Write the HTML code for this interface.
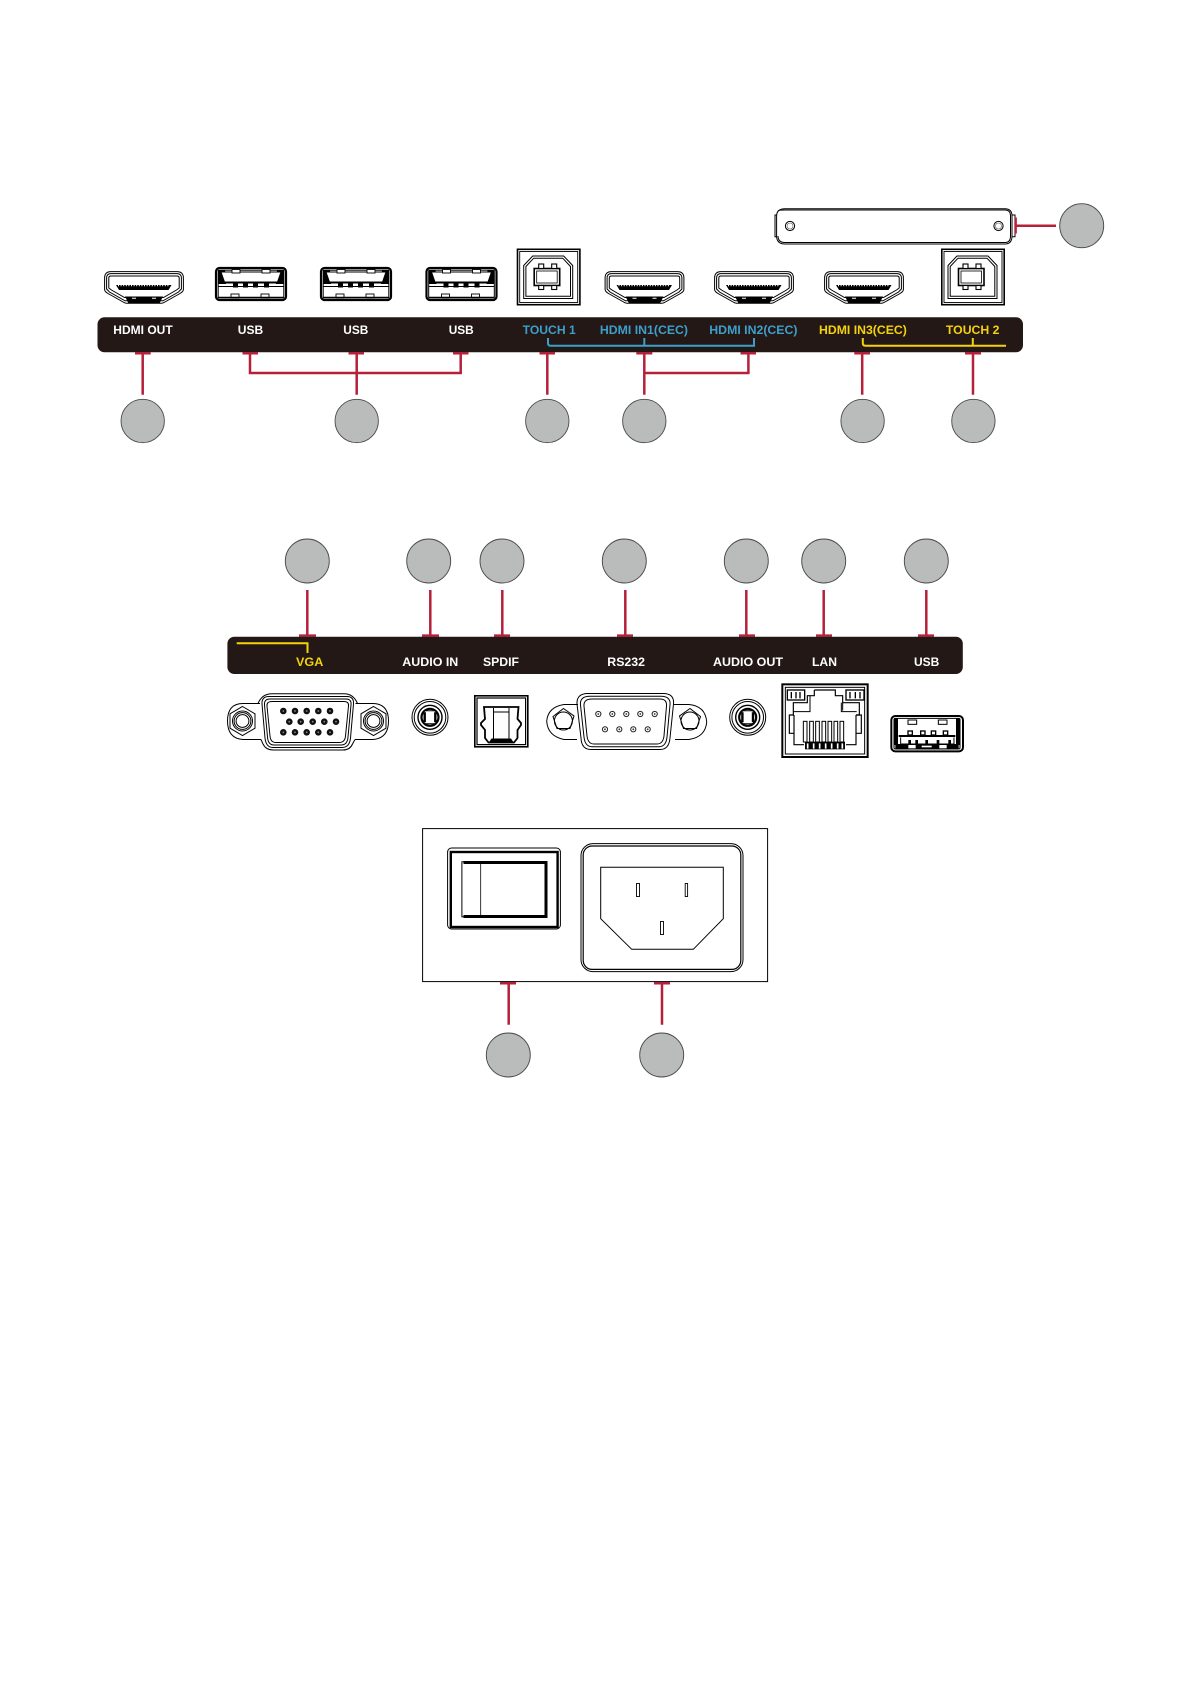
<!DOCTYPE html>
<html><head><meta charset="utf-8"><style>
html,body{margin:0;padding:0;background:#fff}
svg{display:block}
text{font-family:"Liberation Sans",sans-serif;font-weight:700;font-size:12px}
.r{stroke:#b5203a;stroke-width:2.5;fill:none}
.b{stroke:#3d9fcb;stroke-width:2;fill:none}
.y{stroke:#f4d20c;stroke-width:2;fill:none}
.k{stroke:#000;fill:none;stroke-width:1}
.c{fill:#b9bcbb;stroke:#4a4a4a;stroke-width:.9}
</style></head><body>
<svg width="1191" height="1684" viewBox="0 0 1191 1684" xmlns="http://www.w3.org/2000/svg">
<defs>
<symbol id="hdmi" width="80" height="33" viewBox="0 0 80 33" overflow="visible">
<path class="k" d="M7 .6H73Q79.4 .6 79.4 7V18.5Q79.4 20.5 76 22.5L60 31.5Q59 32.3 56 32.3H24Q21 32.3 20 31.5L4 22.5Q.6 20.5 .6 18.5V7Q.6 .6 7 .6Z"/>
<path class="k" d="M7 2.6H73Q77.4 2.6 77.4 7V18L74.5 21 59 29.8H21L5.5 21 2.6 18V7Q2.6 2.6 7 2.6Z"/>
<path class="k" stroke-width="1.4" d="M7 5H73Q75.2 5 75.2 7V17L72.5 19 59.5 26.5H20.5L7.5 19 4.8 17V7Q4.8 5 7 5Z"/>
<path d="M21 25.5H59L55.5 32.4H24.5Z" fill="#000"/>
<path d="M28 27.3h4M48 27.3h4" stroke="#fff" stroke-width="1"/>
<path d="M12 14H67.5L64.5 19H15Z" fill="#000"/>
<path d="M14 14.6H66" stroke="#fff" stroke-width="1.2" stroke-dasharray="1 1.6"/>
</symbol>
<symbol id="usba" width="72" height="34" viewBox="0 0 72 34" overflow="visible">
<rect x="1" y="1" width="70" height="32" rx="3.5" fill="#fff" stroke="#000" stroke-width="2.2"/>
<rect x="3.2" y="3.2" width="65.6" height="27.6" fill="none" stroke="#000" stroke-width="1"/>
<path d="M3 3H10L11 17H3ZM69 3H62L61 17H69Z" fill="#000"/>
<path d="M6 5H66L62.5 15H9.5Z" fill="#fff" stroke="#000" stroke-width="1"/>
<path d="M9 15.6H63" stroke="#000" stroke-width="1.8"/>
<path d="M3 19.5H69" stroke="#000" stroke-width="1"/>
<g fill="#fff" stroke="#000" stroke-width=".9">
<rect x="17" y="2.5" width="8" height="3.5"/><rect x="47" y="2.5" width="8" height="3.5"/>
<rect x="16" y="27" width="8" height="4"/><rect x="46" y="27" width="8" height="4"/>
</g>
<g fill="#000"><rect x="18" y="16" width="5" height="4.5"/><rect x="28" y="16" width="5" height="4.5"/><rect x="38" y="16" width="5" height="4.5"/><rect x="49" y="16" width="5" height="4.5"/></g>
<path d="M3 30.5H69" stroke="#000" stroke-width="1.6"/>
</symbol>
<symbol id="usbb" width="64" height="57" viewBox="0 0 64 57" overflow="visible">
<rect x=".8" y=".8" width="62.4" height="55.4" fill="#fff" stroke="#000" stroke-width="1.6"/>
<rect x="3" y="3" width="58" height="51" fill="none" stroke="#000" stroke-width=".9"/>
<path class="k" d="M7 17 16 7.5H47L56 17V50H7Z"/>
<path class="k" d="M9.2 18 17 9.7H46L53.8 18V47.8H9.2Z"/>
<rect x="17.5" y="20" width="25.5" height="17" fill="#fff" stroke="#000" stroke-width="1.6"/>
<rect x="20" y="22.5" width="20.5" height="12" fill="none" stroke="#000" stroke-width=".8"/>
<g fill="#fff" stroke="#000" stroke-width="1.1">
<rect x="22" y="15.5" width="5" height="4.5"/><rect x="35" y="15.5" width="5" height="4.5"/>
<rect x="22" y="37" width="5" height="4"/><rect x="35" y="37" width="5" height="4"/>
</g>
</symbol>
<symbol id="jack" width="38" height="38" viewBox="-19 -19 38 38" overflow="visible">
<circle r="18" class="k"/><circle r="15.8" class="k"/>
<circle r="12" fill="none" stroke="#000" stroke-width="1.4"/>
<circle r="8.5" fill="none" stroke="#000" stroke-width="2.2"/>
<rect x="-6" y="-6.5" width="12" height="13" rx="2" fill="#fff" stroke="#000" stroke-width="1"/>
<path d="M-5-5V5M5-5V5" stroke="#000" stroke-width="1.8"/>
</symbol>
<symbol id="nut" width="40" height="40" viewBox="-20 -20 40 40" overflow="visible">
<path class="k" d="M0-14.5 12.5-7.2V7.2L0 14.5-12.5 7.2V-7.2Z"/>
<circle r="10" class="k"/><circle r="8.4" class="k"/><circle r="6.4" class="k"/>
</symbol>
<symbol id="pin" width="8" height="8" viewBox="-4 -4 8 8" overflow="visible"><circle r="3.3" fill="#111"/><circle r=".9" fill="#888"/></symbol>
<symbol id="pin2" width="8" height="8" viewBox="-4 -4 8 8" overflow="visible"><circle r="2.6" fill="none" stroke="#222" stroke-width="1"/><circle r=".9" fill="#333"/></symbol>
</defs>

<!-- top section -->
<g>
<path class="k" stroke-width="1.6" fill="#fff" d="M785 208.7H1005Q1012 208.7 1012 216V236Q1012 244 1005 244H785Q776.6 244 776.6 236V216Q776.6 208.7 785 208.7Z"/>
<path class="k" d="M778 211Q778.5 210 785 210H1005Q1010.5 210 1010.5 216V236Q1010.5 242.5 1005 242.5H785Q778 242.5 778 236"/>
<path class="k" d="M776.6 215H775V236.7H776.6M1012 215H1015V236.7H1012"/>
<circle cx="790" cy="226" r="4.6" class="k" stroke-width="1.1"/><circle cx="790" cy="226" r="3" fill="none" stroke="#555" stroke-width=".6"/>
<circle cx="998.5" cy="226" r="4.6" class="k" stroke-width="1.1"/><circle cx="998.5" cy="226" r="3" fill="none" stroke="#555" stroke-width=".6"/>
<use href="#hdmi" x="104" y="271"/><use href="#hdmi" x="604.5" y="271"/><use href="#hdmi" x="714" y="271"/><use href="#hdmi" x="824" y="271"/>
<use href="#usba" x="215" y="267"/><use href="#usba" x="320" y="267"/><use href="#usba" x="425.5" y="267"/>
<use href="#usbb" x="516.7" y="248.5"/><use href="#usbb" x="941" y="248.5"/>
<rect x="97.5" y="317.3" width="925.5" height="35" rx="7" fill="#231815"/>
<g fill="#fff">
<text x="113.3" y="334" textLength="59.4" lengthAdjust="spacingAndGlyphs">HDMI OUT</text>
<text x="237.8" y="334" textLength="25.4" lengthAdjust="spacingAndGlyphs">USB</text>
<text x="343.3" y="334" textLength="25" lengthAdjust="spacingAndGlyphs">USB</text>
<text x="448.7" y="334" textLength="25" lengthAdjust="spacingAndGlyphs">USB</text>
</g>
<g fill="#3d9fcb">
<text x="522.7" y="334" textLength="53" lengthAdjust="spacingAndGlyphs">TOUCH 1</text>
<text x="599.9" y="334" textLength="88.1" lengthAdjust="spacingAndGlyphs">HDMI IN1(CEC)</text>
<text x="709.3" y="334" textLength="88.2" lengthAdjust="spacingAndGlyphs">HDMI IN2(CEC)</text>
</g>
<g fill="#f4d20c">
<text x="819" y="334" textLength="87.8" lengthAdjust="spacingAndGlyphs">HDMI IN3(CEC)</text>
<text x="945.9" y="334" textLength="53.6" lengthAdjust="spacingAndGlyphs">TOUCH 2</text>
</g>
<path class="b" d="M548 338V343Q548 345.7 550.5 345.7H754V338M644.3 338V345"/>
<path class="y" d="M862.8 338V343Q862.8 345.7 865.3 345.7H1006M972.8 338V345"/>
<path class="r" d="M135 353.2H150.7M242.5 353.2H258M348.5 353.2H364M453 353.2H468.5M539.5 353.2H555M636.3 353.2H652.3M740.5 353.2H756M854.3 353.2H870M965 353.2H981"/>
<path class="r" d="M142.7 353V394.7M250 353V373H460.7V353M356.7 353V394.7M547.3 353V394.7M644.3 353V394.7M644.3 373H748.4V353M862.2 353V394.7M973 353V394.7"/>
<path class="r" d="M1015.6 217.5V233.5M1015.6 225.7H1056"/>
<circle class="c" cx="142.7" cy="421" r="21.7"/><circle class="c" cx="356.7" cy="421" r="21.7"/><circle class="c" cx="547.3" cy="421" r="21.7"/><circle class="c" cx="644.3" cy="421" r="21.7"/><circle class="c" cx="862.6" cy="421" r="21.7"/><circle class="c" cx="973.4" cy="421" r="21.7"/><circle class="c" cx="1081.7" cy="225.7" r="22"/>
</g>

<!-- middle section -->
<g>
<circle class="c" cx="307.3" cy="561" r="22"/><circle class="c" cx="428.7" cy="561" r="22"/><circle class="c" cx="502" cy="561" r="22"/><circle class="c" cx="624.3" cy="561" r="22"/><circle class="c" cx="746.3" cy="561" r="22"/><circle class="c" cx="823.7" cy="561" r="22"/><circle class="c" cx="926.3" cy="561" r="22"/>
<path class="r" d="M307.3 590V636M430.3 590V636M502.3 590V636M625.3 590V636M746.3 590V636M823.7 590V636M926.3 590V636"/>
<path class="r" d="M299 635.6H316M422 635.6H439M494 635.6H510M617 635.6H633M739 635.6H755M816 635.6H832M918 635.6H934"/>
<rect x="227.4" y="636.7" width="735.4" height="37.3" rx="7" fill="#231815"/>
<path class="y" d="M236.7 643.3H307.5V653"/>
<text x="296" y="666" fill="#f4d20c" textLength="27.3" lengthAdjust="spacingAndGlyphs">VGA</text>
<g fill="#fff">
<text x="402.3" y="666" textLength="56" lengthAdjust="spacingAndGlyphs">AUDIO IN</text>
<text x="483" y="666" textLength="36" lengthAdjust="spacingAndGlyphs">SPDIF</text>
<text x="607.3" y="666" textLength="37.7" lengthAdjust="spacingAndGlyphs">RS232</text>
<text x="713" y="666" textLength="70" lengthAdjust="spacingAndGlyphs">AUDIO OUT</text>
<text x="812" y="666" textLength="25" lengthAdjust="spacingAndGlyphs">LAN</text>
<text x="914" y="666" textLength="25.3" lengthAdjust="spacingAndGlyphs">USB</text>
</g>
<!-- VGA -->
<path class="k" d="M260 703.5H243Q227.5 703.5 227.5 721T243 739.5H261M355.5 703.5H372.5Q388.5 703.5 388.5 721T372.5 739.5H355"/>
<path class="k" d="M258 703.5Q262 693.7 272 693.7H344Q353.5 693.7 357.5 703.5M261 739.5L263 744Q266 750 273 750H343Q350 750 352.5 744L355 739.5"/>
<use href="#nut" x="222.5" y="701"/><use href="#nut" x="353.5" y="701"/>
<path class="k" stroke-width="1.2" d="M269 696.5H347Q354 696.5 353.5 704L350.5 738Q349.5 747.5 342 747.5H273Q266 747.5 265 738L262 704Q261.5 696.5 269 696.5Z"/>
<path class="k" d="M270 699H346Q351.7 699 351 705L348 737Q347.5 745 341 745H274Q268 745 267.5 737L264.5 705Q264 699 270 699Z"/>
<path class="k" d="M272 701.5H344Q349 701.5 348.5 706L345.5 736Q345 742.5 339 742.5H276Q270.5 742.5 270 736L267 706Q266.5 701.5 272 701.5Z"/>
<g><use href="#pin" x="279.3" y="707"/><use href="#pin" x="291" y="707"/><use href="#pin" x="302.7" y="707"/><use href="#pin" x="314.3" y="707"/><use href="#pin" x="326" y="707"/>
<use href="#pin" x="285.3" y="717.7"/><use href="#pin" x="296.7" y="717.7"/><use href="#pin" x="308.7" y="717.7"/><use href="#pin" x="320.3" y="717.7"/><use href="#pin" x="332" y="717.7"/>
<use href="#pin" x="279.3" y="728.3"/><use href="#pin" x="291" y="728.3"/><use href="#pin" x="302.7" y="728.3"/><use href="#pin" x="314.3" y="728.3"/><use href="#pin" x="326" y="728.3"/></g>
<!-- jacks -->
<use href="#jack" x="411" y="698.3"/><use href="#jack" x="728.7" y="698.3"/>
<!-- SPDIF -->
<rect x="474.8" y="695.8" width="53" height="51" fill="#fff" stroke="#000" stroke-width="1.6"/>
<rect x="477" y="698" width="48.6" height="46.6" fill="none" stroke="#000" stroke-width="1.2"/>
<path d="M484 707H518.5L517.5 719 521 723 521 725 517.5 730V738L514 742.5H488.5L485 738V730L481 725V723L485 719Z" fill="#fff" stroke="#000" stroke-width="1.8"/>
<path class="k" d="M493.5 708V741.5M509 708V741.5M493.5 712H509"/>
<path d="M488.5 743H514L511 738.5H491.5Z" fill="#000"/>
<!-- DB9 -->
<path class="k" d="M578 704.5H564Q548 707 546.7 721 547.5 736 564 739.5H577M673 704.5H689Q705.5 706 706.7 722 705.5 737 689 739.5H675"/>
<path class="k" d="M563.5 707.5 574 715 570 727.5H557L553 715.5ZM690 707.5 679.5 715 683.5 727.5H696.5L700.5 715.5Z" transform="translate(0,1)"/>
<circle cx="563.4" cy="721" r="9" class="k"/><circle cx="690" cy="721" r="9" class="k"/>
<path class="k" d="M588 693.5H663Q674.5 693.5 673.5 704L670 738Q669 749.5 660 749.5H591Q581.5 749.5 581 738L577 704Q576.5 693.5 588 693.5Z"/>
<path class="k" d="M590 696.3H661Q671 696.3 670 705L667 737Q666 746.7 659 746.7H592Q585 746.7 584 737L580.5 705Q579.5 696.3 590 696.3Z"/>
<path class="k" d="M592 699H660Q667 699 666.5 706L664 736Q663 744 657 744H594Q588 744 587 736L584 706Q583.5 699 592 699Z"/>
<g><use href="#pin2" x="594.3" y="710"/><use href="#pin2" x="608.3" y="710"/><use href="#pin2" x="622.3" y="710"/><use href="#pin2" x="636.3" y="710"/><use href="#pin2" x="650.7" y="710"/>
<use href="#pin2" x="601" y="725.3"/><use href="#pin2" x="615.3" y="725.3"/><use href="#pin2" x="629.3" y="725.3"/><use href="#pin2" x="643.7" y="725.3"/></g>
<!-- LAN -->
<g transform="translate(770 680) scale(.33333)">
<rect x="37" y="13" width="256" height="218" fill="#fff" stroke="#000" stroke-width="6"/>
<rect x="46" y="22" width="238" height="200" fill="none" stroke="#000" stroke-width="3"/>
<g fill="#fff" stroke="#000" stroke-width="4"><rect x="52" y="30" width="52" height="30"/><rect x="228" y="30" width="54" height="30"/></g>
<path d="M64 36V55M78 36V55M90 36V55M240 36V55M256 36V55M270 36V55" stroke="#000" stroke-width="4"/>
<path fill="none" stroke="#000" stroke-width="3.5" d="M133 30H196V47H218V68H268V105H258M133 30V47H112V68H70V105H72"/>
<path fill="none" stroke="#000" stroke-width="3" d="M120 47V68M70 95H120V68M260 95H214V68M218 68V92M72 100H72"/>
<path fill="none" stroke="#000" stroke-width="3.5" d="M72 105H58V160H72V194H102M258 105H274V160H258V194H228M72 105V160M258 105V160"/>
<g fill="#fff" stroke="#000" stroke-width="3"><rect x="100" y="124" width="11" height="62"/><rect x="119" y="124" width="11" height="62"/><rect x="137" y="124" width="11" height="62"/><rect x="156" y="124" width="11" height="62"/><rect x="174" y="124" width="11" height="62"/><rect x="192" y="124" width="11" height="62"/><rect x="210" y="124" width="11" height="62"/></g>
<rect x="105" y="185" width="120" height="23" fill="#000"/>
<path d="M113 190V206M131 190V206M149 190V206M167 190V206M185 190V206M203 190V206M217 190V206" stroke="#fff" stroke-width="5"/>
</g>
<!-- USB bottom -->
<g transform="translate(770 680) scale(.33333)">
<rect x="364" y="108" width="215" height="106" rx="12" fill="#fff" stroke="#000" stroke-width="6"/>
<rect x="372" y="115" width="198" height="92" rx="4" fill="none" stroke="#000" stroke-width="3"/>
<path d="M372 115H384V195H372ZM570 115H558V195H570Z" fill="#000"/>
<g fill="#fff" stroke="#000" stroke-width="3"><rect x="414" y="120" width="26" height="13"/><rect x="505" y="120" width="26" height="13"/></g>
<g fill="#fff" stroke="#000" stroke-width="4"><rect x="414" y="153" width="13" height="12"/><rect x="452" y="153" width="13" height="12"/><rect x="484" y="153" width="13" height="12"/><rect x="520" y="153" width="13" height="12"/></g>
<path d="M386 168H556" stroke="#000" stroke-width="6"/>
<path fill="none" stroke="#000" stroke-width="3" d="M392 172V192H552V172"/>
<g fill="#000"><rect x="415" y="180" width="8" height="14"/><rect x="436" y="180" width="8" height="14"/><rect x="466" y="180" width="8" height="14"/><rect x="500" y="180" width="8" height="14"/><rect x="535" y="180" width="8" height="14"/></g>
<path d="M376 192H566V207H376Z" fill="#000"/>
<g fill="#fff"><rect x="415" y="195" width="22" height="10"/><rect x="508" y="195" width="22" height="10"/><rect x="455" y="197" width="30" height="5"/></g>
</g>
</g>

<!-- bottom section -->
<g>
<rect x="422.6" y="828.6" width="345" height="153" fill="#fff" stroke="#000" stroke-width="1"/>
<rect x="447.6" y="848" width="112.8" height="81" rx="4" fill="none" stroke="#000" stroke-width="1"/>
<rect x="450.8" y="852" width="106.8" height="75" fill="none" stroke="#000" stroke-width="2.4"/>
<rect x="461.9" y="861.8" width="84.2" height="55" fill="none" stroke="#000" stroke-width="1"/>
<path d="M463.5 862.5H546V916.5H463.5" fill="none" stroke="#000" stroke-width="3"/>
<path d="M480.7 862V917" stroke="#000" stroke-width=".8"/>
<rect x="581" y="843.6" width="162" height="128" rx="12" fill="none" stroke="#000" stroke-width="1"/>
<rect x="583.2" y="846" width="157.6" height="123.4" rx="9" fill="none" stroke="#000" stroke-width="1.2"/>
<path d="M600.7 867.3H723.3V918.7L693.3 949.3H631.7L600.7 918.7Z" fill="none" stroke="#000" stroke-width="1"/>
<g fill="#fff" stroke="#000" stroke-width=".9"><rect x="636.5" y="883.5" width="3" height="13"/><rect x="685.2" y="883.5" width="2.4" height="13"/><rect x="660.5" y="921.5" width="3" height="13"/></g>
<path class="r" d="M500 983.2H516M654 983.2H670M508.7 983V1024.7M662 983V1024.7"/>
<circle class="c" cx="508.3" cy="1055" r="22"/><circle class="c" cx="661.7" cy="1055" r="22"/>
</g>
</svg>
</body></html>
